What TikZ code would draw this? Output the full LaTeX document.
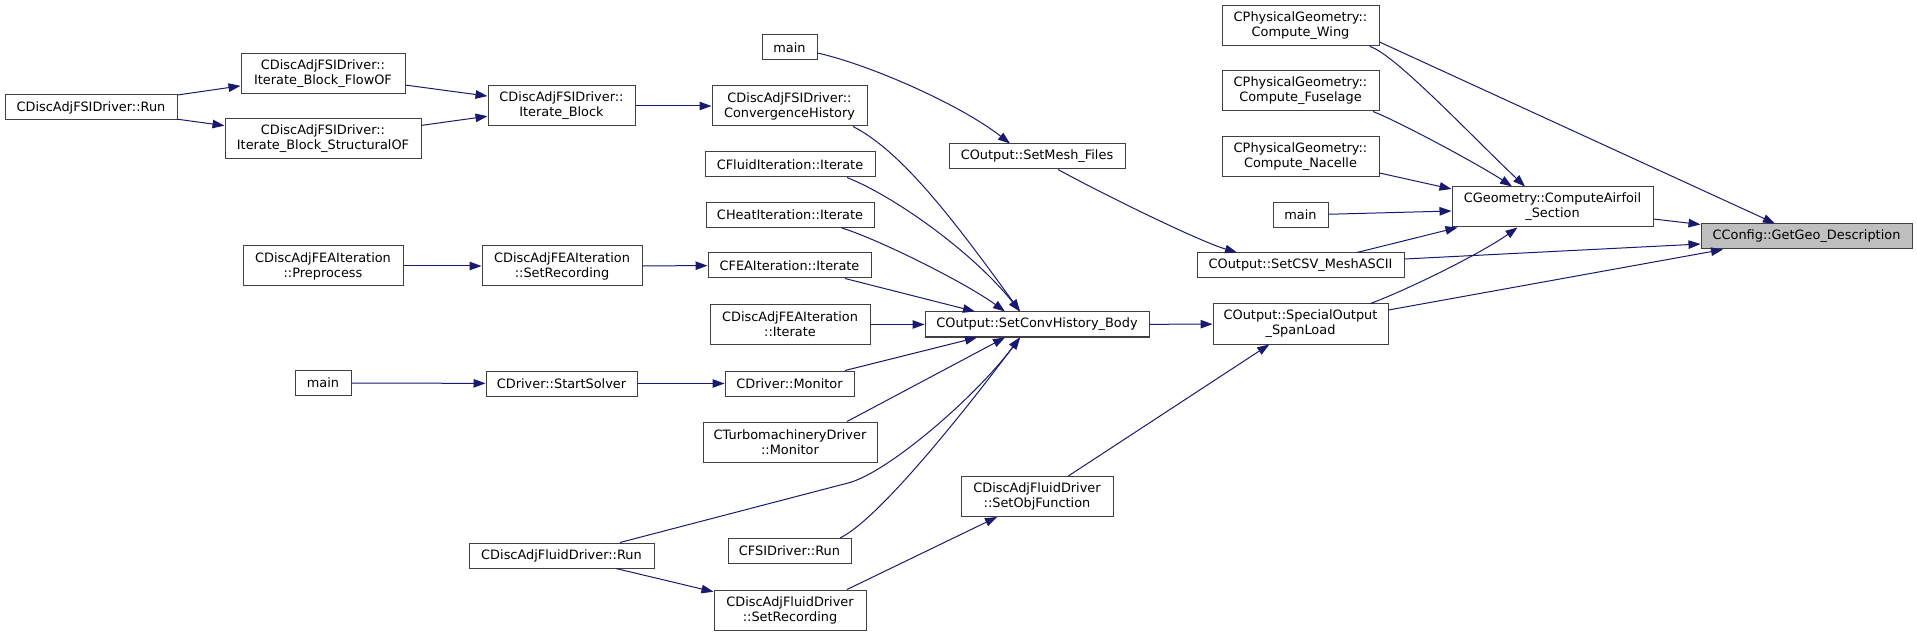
\documentclass[tikz,border=0pt]{standalone}
\usepackage{fontspec}
\setmainfont{DejaVu Sans}
\usepackage{xcolor}
\usetikzlibrary{arrows.meta}

\definecolor{edgeblue}{HTML}{191970}
\definecolor{boxline}{HTML}{404040}
\definecolor{hilite}{HTML}{BFBFBF}

\begin{document}
\begin{tikzpicture}[
    x=1pt, y=-1pt,
    % Styles
    fn/.style={draw=boxline, line width=1pt, fill=white, inner sep=0pt,
        minimum height=25pt, font=\fontsize{12.9}{15}\selectfont,
        align=center},
    fntall/.style={fn, minimum height=40pt},
    call/.style={-{Triangle[length=12pt, width=8.5pt]}, line width=1pt,
        color=edgeblue},
]
\useasboundingbox (0,0) rectangle (1917,636);

% ===== Callers, left part =====
\node[fn, minimum width=172pt] (fsirun) at (91,107.5) {CDiscAdjFSIDriver::Run};
\node[fntall, minimum width=164pt] (flowof) at (323,74)
    {CDiscAdjFSIDriver::\\Iterate\_Block\_FlowOF};
\node[fntall, minimum width=196pt] (structof) at (323,139)
    {CDiscAdjFSIDriver::\\Iterate\_Block\_StructuralOF};
\node[fntall, minimum width=147pt] (iterblock) at (561.5,106)
    {CDiscAdjFSIDriver::\\Iterate\_Block};
\node[fntall, minimum width=160pt] (feapre) at (323,266)
    {CDiscAdjFEAIteration\\::Preprocess};
\node[fntall, minimum width=160pt] (fearec) at (562,266)
    {CDiscAdjFEAIteration\\::SetRecording};
\node[fn, minimum width=56pt] (mainbot) at (323,383) {main};
\node[fn, minimum width=151pt] (startsolver) at (561.5,383.5) {CDriver::StartSolver};
\node[fn, minimum width=185pt] (dafluidrun) at (561.5,555.5) {CDiscAdjFluidDriver::Run};

% ===== Callers of SetConvHistory_Body =====
\node[fn, minimum width=55pt] (maintop) at (789.5,47.5) {main};
\node[fntall, minimum width=155pt] (convhist) at (789.5,106)
    {CDiscAdjFSIDriver::\\ConvergenceHistory};
\node[fn, minimum width=170pt] (fluiditer) at (790,164.5) {CFluidIteration::Iterate};
\node[fn, minimum width=168pt] (heatiter) at (790,215) {CHeatIteration::Iterate};
\node[fn, minimum width=163pt] (feaiter) at (789.5,265.5) {CFEAIteration::Iterate};
\node[fntall, minimum width=160pt] (dafeaiter) at (790,324.5)
    {CDiscAdjFEAIteration\\::Iterate};
\node[fn, minimum width=129pt] (monitor) at (789.5,383.5) {CDriver::Monitor};
\node[fntall, minimum width=174pt] (turbomon) at (790,442)
    {CTurbomachineryDriver\\::Monitor};
\node[fn, minimum width=123pt] (fsidrvrun) at (789.5,551) {CFSIDriver::Run};
\node[fntall, minimum width=152pt] (dafluidrec) at (790,610)
    {CDiscAdjFluidDriver\\::SetRecording};

% ===== Output routines =====
\node[fn, minimum width=176pt] (meshfiles) at (1037,156.5) {COutput::SetMesh\_Files};
\node[fn, minimum width=224pt] (convbody) at (1037,324.5) {COutput::SetConvHistory\_Body};
\node[fntall, minimum width=152pt] (objfunc) at (1037,496.5)
    {CDiscAdjFluidDriver\\::SetObjFunction};
\node[fntall, minimum width=157pt] (wing) at (1300.5,26)
    {CPhysicalGeometry::\\Compute\_Wing};
\node[fntall, minimum width=157pt] (fuselage) at (1300.5,91)
    {CPhysicalGeometry::\\Compute\_Fuselage};
\node[fntall, minimum width=157pt] (nacelle) at (1300.5,156.5)
    {CPhysicalGeometry::\\Compute\_Nacelle};
\node[fn, minimum width=55pt] (mainright) at (1300.5,215) {main};
\node[fn, minimum width=207pt] (csvmesh) at (1300.5,265.5) {COutput::SetCSV\_MeshASCII};
\node[fntall, minimum width=175pt] (spanload) at (1300.5,324)
    {COutput::SpecialOutput\\\_SpanLoad};

% ===== Geometry and target =====
\node[fntall, minimum width=201pt] (airfoil) at (1552.5,207)
    {CGeometry::ComputeAirfoil\\\_Section};
\node[fn, minimum width=211pt, fill=hilite] (geodesc) at (1806.5,236.5)
    {CConfig::GetGeo\_Description};

% ===== Calls =====
\draw[call] (fsirun) -- (flowof);
\draw[call] (fsirun) -- (structof);
\draw[call] (flowof) -- (iterblock);
\draw[call] (structof) -- (iterblock);
\draw[call] (iterblock) -- (convhist);
\draw[call] (feapre) -- (fearec);
\draw[call] (fearec) -- (feaiter);
\draw[call] (mainbot) -- (startsolver);
\draw[call] (startsolver) -- (monitor);
\draw[call] (dafluidrun) -- (dafluidrec);

% into SetConvHistory_Body
\draw[call] ([xshift=63.5pt]convhist.south) .. controls +(47,24) and +(-70,-97)
    .. ([xshift=-17pt]convbody.north);
\draw[call] ([xshift=57pt]fluiditer.south) .. controls +(50,20) and +(-45,-57)
    .. ([xshift=-17pt]convbody.north);
\draw[call] ([xshift=52pt]heatiter.south) .. controls +(38,12) and +(-40,-29)
    .. ([xshift=-32pt]convbody.north);
\draw[call] ([xshift=55.5pt]feaiter.south) -- ([xshift=-62pt]convbody.north);
\draw[call] (dafeaiter) -- (convbody);
\draw[call] ([xshift=55.5pt]monitor.north) -- ([xshift=-60pt]convbody.south);
\draw[call] ([xshift=57pt]turbomon.north) -- ([xshift=-32pt]convbody.south);
\draw[call] ([xshift=58.5pt]dafluidrun.north) -- ++(230,-60)
    .. controls +(40,-12) and +(-45,60) .. ([xshift=-17pt]convbody.south);
\draw[call] ([xshift=50.5pt]fsidrvrun.north) .. controls +(35,-17) and +(-70,93)
    .. ([xshift=-17pt]convbody.south);

% output chain
\draw[call] ([yshift=-5.5pt]maintop.east) .. controls +(53,12) and +(-50,-39)
    .. ([xshift=-27pt]meshfiles.north);
\draw[call] ([xshift=57pt]dafluidrec.north) -- ([xshift=-40pt]objfunc.south);
\draw[call] (objfunc) -- (spanload);
\draw[call] (convbody) -- (spanload);
\draw[call] ([xshift=21pt]meshfiles.south) .. controls +(40,22) and +(-40,-12)
    .. ([xshift=-63.5pt]csvmesh.north);

% into ComputeAirfoil_Section and GetGeo_Description
\draw[call] ([xshift=56.5pt]csvmesh.north) -- ([xshift=-95pt]airfoil.south);
\draw[call] ([yshift=6.5pt]csvmesh.east) -- ([yshift=-7.5pt]geodesc.west);
\draw[call] ([xshift=70pt]spanload.north) .. controls +(40,-15) and +(-35,25)
    .. ([xshift=-35pt]airfoil.south);
\draw[call] ([yshift=14pt]spanload.east) -- ([xshift=-83.5pt]geodesc.south);
\draw[call] ([xshift=69.5pt]wing.south) .. controls +(25,8) and +(-55,-52)
    .. ([xshift=-27.5pt]airfoil.north);
\draw[call] ([yshift=-16pt]wing.east) -- ([xshift=-31.5pt]geodesc.north);
\draw[call] ([xshift=72.5pt]fuselage.south) .. controls +(30,12) and +(-30,-20)
    .. ([xshift=-40.5pt]airfoil.north);
\draw[call] ([yshift=-16.5pt]nacelle.east) -- ([yshift=18pt]airfoil.west);
\draw[call] (mainright) -- ([yshift=-4pt]airfoil.west);
\draw[call] ([yshift=-12pt]airfoil.east) -- ([yshift=12pt]geodesc.west);

\end{tikzpicture}
\end{document}
